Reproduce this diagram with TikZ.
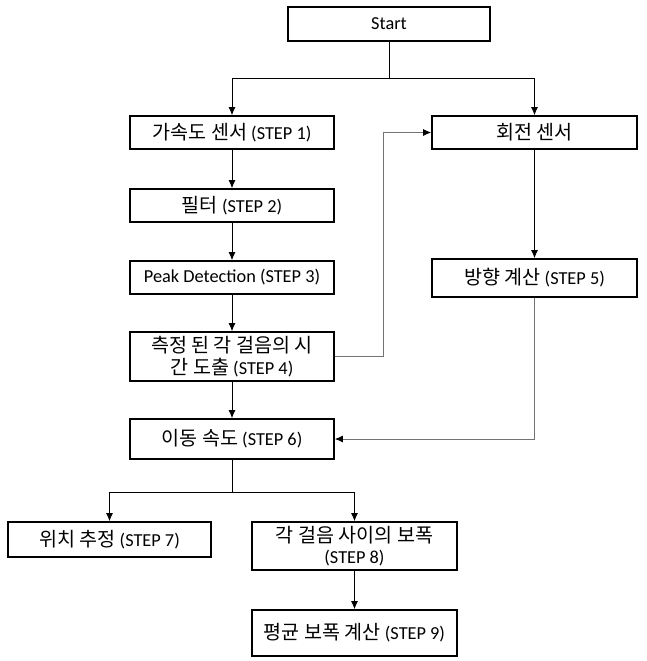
\documentclass[tikz,border=0pt]{standalone}
\usepackage{fontspec}
\setmainfont{Carlito}
\newfontfamily\kr[Scale=1.07]{Noto Sans CJK KR}
\usetikzlibrary{arrows.meta}
\newcommand{\K}[1]{{\kr #1}}
\begin{document}
\begin{tikzpicture}[x=1pt,y=-1pt,
  box/.style={draw=black,line width=1.6pt,rectangle,inner sep=0pt,align=center,
    font=\fontsize{18.3}{21.5}\selectfont},
  conn/.style={line width=0.9pt,draw=black},
  gconn/.style={line width=0.9pt,draw=black!55},
  arr/.style={-{Latex[length=8pt,width=7pt,color=black]}}]
\useasboundingbox (0,0) rectangle (646,661);
\node[box,minimum width=202pt,minimum height=34pt] (start) at (389,24) {Start};
\node[box,minimum width=204pt,minimum height=33pt] (acc) at (232,132.5) {\K{가속도 센서} (STEP 1)};
\node[box,minimum width=205pt,minimum height=33pt] (rot) at (534.5,132.5) {\K{회전 센서}};
\node[box,minimum width=204pt,minimum height=33pt] (filt) at (232,205.5) {\K{필터} (STEP 2)};
\node[box,minimum width=204pt,minimum height=33pt] (peak) at (232,277.5) {Peak Detection (STEP 3)};
\node[box,minimum width=204pt,minimum height=49pt] (meas) at (232,356.5) {\K{측정 된 각 걸음의 시}\\\K{간 도출} (STEP 4)};
\node[box,minimum width=205pt,minimum height=38pt] (dir) at (534.5,278) {\K{방향 계산} (STEP 5)};
\node[box,minimum width=204pt,minimum height=40pt] (speed) at (232,439) {\K{이동 속도} (STEP 6)};
\node[box,minimum width=203pt,minimum height=35pt] (pos) at (109.5,539.5) {\K{위치 추정} (STEP 7)};
\node[box,minimum width=205pt,minimum height=48pt] (stride) at (354.5,546) {\K{각 걸음 사이의 보폭}\\(STEP 8)};
\node[box,minimum width=205pt,minimum height=46pt] (avg) at (354.5,633) {\K{평균 보폭 계산} (STEP 9)};
\coordinate (j1) at (389,78);
\coordinate (j2) at (232,492);
\coordinate (j3) at (383,356.5);
\draw[conn] (start.south) -- (j1);
\draw[conn,arr] (j1) -| (acc.north);
\draw[conn,arr] (j1) -| (rot.north);
\draw[conn,arr] (acc) -- (filt);
\draw[conn,arr] (filt) -- (peak);
\draw[conn,arr] (peak) -- (meas);
\draw[conn,arr] (meas) -- (speed);
\draw[gconn] (meas.east) -- (j3);
\draw[gconn,arr] (j3) |- (rot.west);
\draw[conn,arr] (rot) -- (dir);
\draw[gconn,arr] (dir.south) |- (speed.east);
\draw[conn] (speed.south) -- (j2);
\draw[conn,arr] (j2) -| (pos.north);
\draw[conn,arr] (j2) -| (stride.north);
\draw[conn,arr] (stride) -- (avg);
\end{tikzpicture}
\end{document}
